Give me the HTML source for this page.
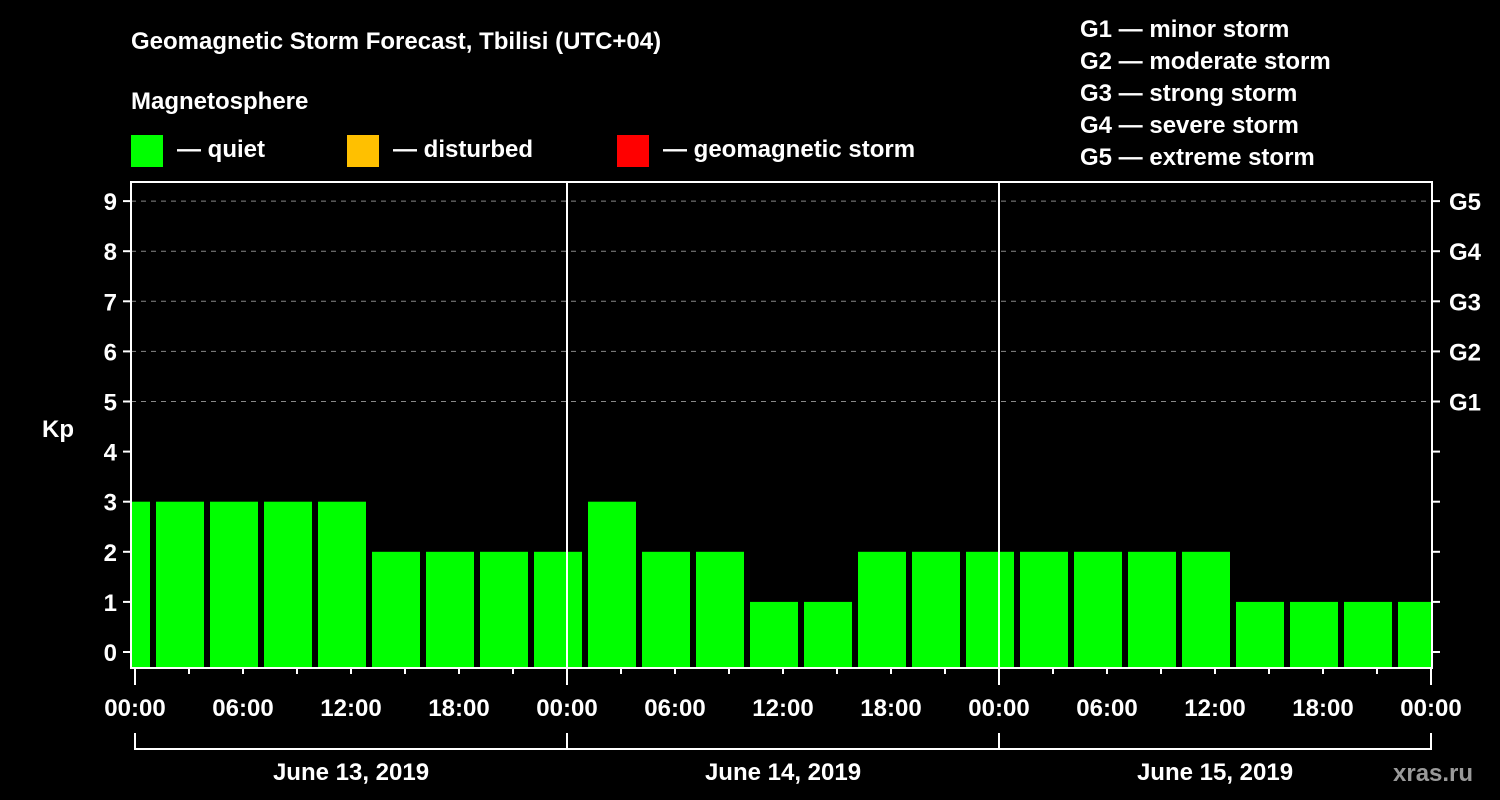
<!DOCTYPE html>
<html><head><meta charset="utf-8"><style>
html,body{margin:0;background:#000;width:1500px;height:800px;overflow:hidden}
svg text{font-family:"Liberation Sans",sans-serif;font-weight:bold;fill:#fff}
</style></head><body>
<svg width="1500" height="800" xmlns="http://www.w3.org/2000/svg">
<text x="131" y="49" font-size="24">Geomagnetic Storm Forecast, Tbilisi (UTC+04)</text>
<text x="131" y="109" font-size="24">Magnetosphere</text>
<g><rect x="131" y="135" width="32" height="32" fill="#00ff00"/><text x="177" y="157" font-size="24">— quiet</text></g>
<g><rect x="347" y="135" width="32" height="32" fill="#ffc000"/><text x="393" y="157" font-size="24">— disturbed</text></g>
<g><rect x="617" y="135" width="32" height="32" fill="#ff0000"/><text x="663" y="157" font-size="24">— geomagnetic storm</text></g>
<g font-size="24">
<text x="1080" y="37">G1 — minor storm</text><text x="1080" y="69">G2 — moderate storm</text><text x="1080" y="101">G3 — strong storm</text><text x="1080" y="133">G4 — severe storm</text><text x="1080" y="165">G5 — extreme storm</text>
</g>
<text x="42" y="437" font-size="24">Kp</text>
<text x="1393" y="781" font-size="24" fill="#aaa" style="fill:#9a9a9a">xras.ru</text>
<defs><clipPath id="pc"><rect x="132" y="182" width="1300" height="486"/></clipPath></defs>
<g id="grid"></g><g id="bars" clip-path="url(#pc)"></g><g id="axes"></g>
</svg>
<script>
const kpValues=[3,3,3,3,3,2,2,2,2,3,2,2,1,1,2,2,2,2,2,2,2,1,1,1,1];
const yTicks=[0,1,2,3,4,5,6,7,8,9];
const gLabels=["G1","G2","G3","G4","G5"];
const xTickLabels=["00:00","06:00","12:00","18:00","00:00","06:00","12:00","18:00","00:00","06:00","12:00","18:00","00:00"];
const dayLabels=["June 13, 2019","June 14, 2019","June 15, 2019"];
const NS="http://www.w3.org/2000/svg";
const X0=135,PXH=18,Y0=652,PXK=50.1,TOP=182,BOT=668,LEFT=131,RIGHT=1432;
const x=h=>X0+h*PXH, y=v=>Y0-v*PXK;
function mk(p,t,a){const e=document.createElementNS(NS,t);for(const k in a)e.setAttribute(k,a[k]);p.appendChild(e);return e;}
const bars=document.getElementById('bars'),axes=document.getElementById('axes'),grid=document.getElementById('grid');
kpValues.forEach((v,i)=>{const s=x(1+3*(i-1))+3;
const r=mk(bars,'rect',{x:s,y:y(v),width:48,height:BOT-y(v),fill:v>=5?'#ff0000':v>=4?'#ffc000':'#00ff00'});

});
yTicks.forEach(v=>{
if(v>=5){const l=mk(grid,'line',{x1:LEFT,x2:RIGHT,y1:y(v),y2:y(v),stroke:'#888','stroke-dasharray':'5,5','stroke-width':1});}
mk(axes,'line',{x1:LEFT-8,x2:LEFT,y1:y(v),y2:y(v),stroke:'#fff','stroke-width':2});
mk(axes,'line',{x1:RIGHT,x2:RIGHT+8,y1:y(v),y2:y(v),stroke:'#fff','stroke-width':2});
const t=mk(axes,'text',{x:LEFT-14,y:y(v)+9,'font-size':24,'text-anchor':'end'});t.textContent=v;


if(v>=5){const g=mk(axes,'text',{x:1449,y:y(v)+9,'font-size':24});g.textContent=gLabels[v-5];

}
});
mk(axes,'rect',{x:LEFT,y:TOP,width:RIGHT-LEFT,height:BOT-TOP,fill:'none',stroke:'#fff','stroke-width':2});
[1,2].forEach(d=>mk(axes,'line',{x1:x(24*d),x2:x(24*d),y1:TOP,y2:BOT,stroke:'#fff','stroke-width':2}));
for(let h=0;h<=72;h+=3){mk(axes,'line',{x1:x(h),x2:x(h),y1:BOT,y2:BOT+(h%24?6:17),stroke:'#fff','stroke-width':2});}
xTickLabels.forEach((l,i)=>{const t=mk(axes,'text',{x:x(i*6),y:716,'font-size':24,'text-anchor':'middle'});t.textContent=l;

});
mk(axes,'line',{x1:x(0),x2:x(72),y1:749,y2:749,stroke:'#fff','stroke-width':2});
for(let d=0;d<=3;d++)mk(axes,'line',{x1:x(24*d),x2:x(24*d),y1:733,y2:750,stroke:'#fff','stroke-width':2});
dayLabels.forEach((l,i)=>{const t=mk(axes,'text',{x:x(24*i+12),y:780,'font-size':24,'text-anchor':'middle'});t.textContent=l;

});
</script>
</body></html>
